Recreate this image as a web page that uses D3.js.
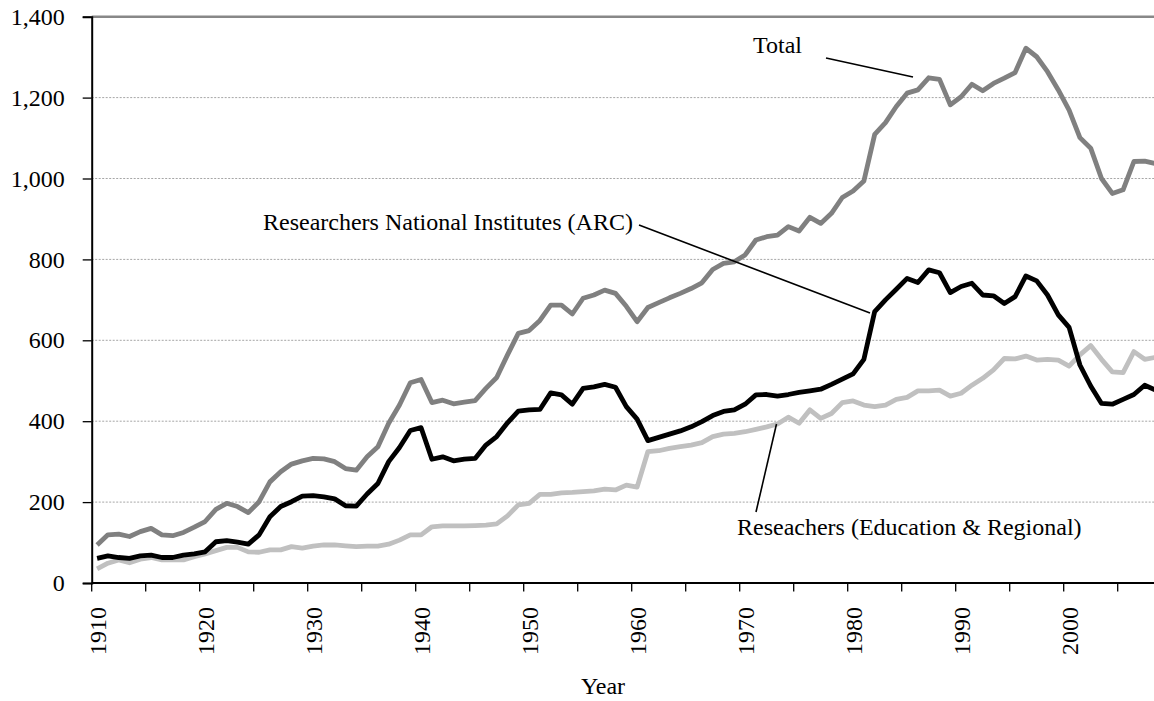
<!DOCTYPE html>
<html>
<head>
<meta charset="utf-8">
<script src="https://cdn.jsdelivr.net/npm/d3@7"></script>
<style>
  body { margin: 0; background: #fff; }
  svg { display: block; }
  text { font-family: "Liberation Serif", "Times New Roman", serif; fill: #000; }
</style>
</head>
<body>
<svg width="1154" height="701"></svg>
<script>
const width = 1154
const height = 701

// years 1910 - 2008
const years = d3.range(1910, 2009)

const total = [94, 119, 121, 115, 127, 135, 119, 117, 125, 138,
  152, 182, 197, 189, 174, 201, 250, 275, 294, 302,
  308, 307, 300, 283, 279, 312, 337, 395, 440, 495,
  503, 446, 452, 443, 447, 451, 481, 508, 564, 617,
  624, 649, 687, 687, 665, 704, 712, 724, 716, 684,
  646, 681, 693, 705, 716, 728, 742, 775, 790, 794,
  811, 848, 856, 860, 881, 870, 904, 889, 914, 953,
  969, 994, 1109, 1138, 1178, 1211, 1219, 1249, 1245, 1182,
  1202, 1233, 1217, 1235, 1248, 1262, 1322, 1301, 1264, 1219,
  1169, 1101, 1075, 1000, 963, 972, 1042, 1043, 1037]

const arc = [61, 67, 63, 61, 67, 69, 63, 63, 69, 72,
  77, 102, 105, 101, 96, 119, 164, 189, 201, 215,
  216, 213, 208, 191, 190, 220, 246, 300, 335, 377,
  384, 306, 312, 302, 306, 308, 341, 362, 396, 425,
  428, 429, 470, 465, 442, 481, 485, 491, 484, 436,
  405, 352, 360, 368, 376, 386, 399, 414, 424, 428,
  442, 465, 466, 462, 466, 471, 475, 479, 491, 504,
  517, 553, 671, 700, 726, 753, 743, 774, 767, 718,
  733, 741, 712, 710, 691, 708, 759, 747, 712, 663,
  632, 539, 487, 444, 442, 454, 466, 489, 477]

const edu = [35, 49, 57, 50, 59, 63, 57, 57, 57, 65,
  72, 80, 88, 88, 77, 76, 82, 82, 90, 86,
  91, 94, 94, 92, 90, 91, 91, 96, 106, 119,
  119, 139, 141, 141, 141, 142, 143, 146, 166, 193,
  197, 219, 219, 223, 224, 226, 228, 232, 230, 242,
  237, 325, 327, 333, 337, 341, 347, 362, 368, 370,
  374, 380, 386, 393, 410, 395, 428, 407, 419, 446,
  450, 440, 436, 440, 454, 459, 475, 475, 477, 462,
  469, 489, 506, 527, 555, 554, 561, 551, 553, 551,
  536, 564, 587, 553, 522, 520, 572, 553, 558]

const yTicks = [0, 200, 400, 600, 800, 1000, 1200, 1400]
const xLabelYears = [1910, 1920, 1930, 1940, 1950, 1960, 1970, 1980, 1990, 2000]

const series = [
  { name: "Total", values: total, color: "#808080" },
  { name: "Researchers National Institutes (ARC)", values: arc, color: "#000000" },
  { name: "Reseachers (Education & Regional)", values: edu, color: "#c0c0c0" }
]

const margin = { top: 16.7, left: 91.7, bottom: 118 }
const band = 10.8
const x = d3.scaleBand().domain(years).range([margin.left, margin.left + band * years.length]).paddingInner(0).paddingOuter(0)
const y = d3.scaleLinear().domain([0, 1400]).range([height - margin.bottom, margin.top])

const svg = d3.select("svg")
const plotRight = margin.left + band * years.length

// gridlines
svg.append("g").selectAll("line")
  .data(yTicks.filter(function (d) { return d > 0 && d < 1400 }))
  .enter().append("line")
  .attr("x1", margin.left).attr("x2", plotRight)
  .attr("y1", function (d) { return y(d) }).attr("y2", function (d) { return y(d) })
  .attr("stroke", "#a6a6a6").attr("stroke-width", 1).attr("stroke-dasharray", "2,1.5")

// top border
svg.append("line")
  .attr("x1", margin.left).attr("x2", plotRight)
  .attr("y1", y(1400)).attr("y2", y(1400))
  .attr("stroke", "#888").attr("stroke-width", 2.5)

// lines
const line = d3.line()
  .x(function (d, i) { return x(years[i]) + band / 2 })
  .y(function (d) { return y(d) })

svg.append("g").selectAll("path")
  .data([series[2], series[1], series[0]])
  .enter().append("path")
  .attr("d", function (d) { return line(d.values) })
  .attr("fill", "none")
  .attr("stroke", function (d) { return d.color })
  .attr("stroke-width", 4.8)
  .attr("stroke-linejoin", "round")

// y axis
const yAxis = d3.axisLeft(y).tickValues(yTicks).tickSize(9).tickPadding(18)
  .tickFormat(d3.format(","))
const gy = svg.append("g").attr("transform", "translate(" + margin.left + ",0)").call(yAxis)
gy.select(".domain").attr("stroke", "#000").attr("stroke-width", 2)
gy.selectAll(".tick line").attr("stroke", "#000").attr("stroke-width", 1.3)
gy.selectAll("text").style("font-size", "24px").attr("font-family", null)

// x axis: tick marks every 5 categories at band boundaries
const xBase = y(0)
svg.append("line")
  .attr("x1", margin.left).attr("x2", plotRight)
  .attr("y1", xBase).attr("y2", xBase)
  .attr("stroke", "#000").attr("stroke-width", 2)

svg.append("g").selectAll("line")
  .data(years.filter(function (d) { return (d - 1910) % 5 === 0 }).concat([2010]))
  .enter().append("line")
  .attr("x1", function (d) { return margin.left + (d - 1910) * band })
  .attr("x2", function (d) { return margin.left + (d - 1910) * band })
  .attr("y1", xBase).attr("y2", xBase + 8.5)
  .attr("stroke", "#000").attr("stroke-width", 1.3)

svg.append("g").selectAll("text")
  .data(xLabelYears)
  .enter().append("text")
  .attr("transform", function (d) {
    return "translate(" + (x(d) + band / 2) + "," + (xBase + 24) + ") rotate(-90)"
  })
  .attr("text-anchor", "end")
  .attr("dy", "0.35em")
  .style("font-size", "24px")
  .text(function (d) { return d })

svg.append("text")
  .attr("x", 603).attr("y", 694)
  .attr("text-anchor", "middle")
  .style("font-size", "24px")
  .text("Year")

// annotations
const notes = [
  { label: "Total", tx: 753, ty: 53, line: [[826, 58], [913, 77]] },
  { label: "Researchers National Institutes (ARC)", tx: 263, ty: 230, line: [[639, 225], [870, 313]] },
  { label: "Reseachers (Education & Regional)", tx: 737, ty: 535, line: [[756, 512], [776.5, 424]] }
]

const gn = svg.append("g")
gn.selectAll("text").data(notes).enter().append("text")
  .attr("x", function (d) { return d.tx }).attr("y", function (d) { return d.ty })
  .style("font-size", "24px")
  .text(function (d) { return d.label })
gn.selectAll("line").data(notes).enter().append("line")
  .attr("x1", function (d) { return d.line[0][0] }).attr("y1", function (d) { return d.line[0][1] })
  .attr("x2", function (d) { return d.line[1][0] }).attr("y2", function (d) { return d.line[1][1] })
  .attr("stroke", "#000").attr("stroke-width", 1.6)
</script>
</body>
</html>
